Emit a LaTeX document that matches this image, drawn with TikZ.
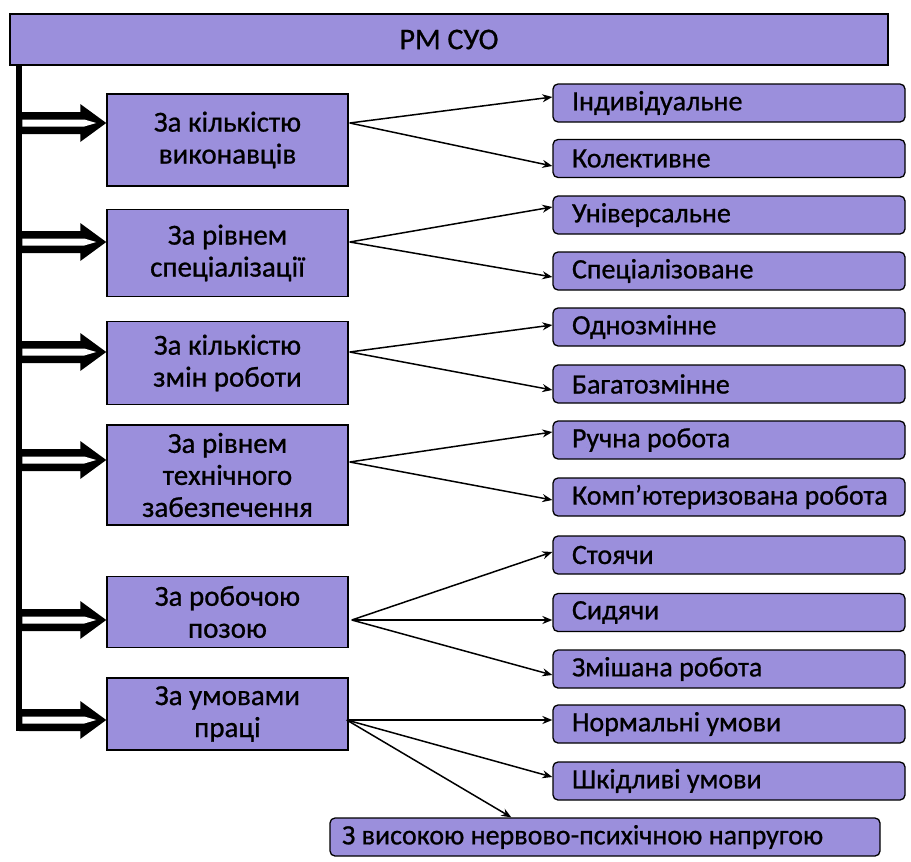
\documentclass[tikz,border=0pt]{standalone}
\usepackage{fontspec}
\setmainfont{Carlito}[FakeBold=0.8]
\usetikzlibrary{arrows.meta,calc}
\definecolor{boxfill}{RGB}{155,143,220}
\begin{document}
\begin{tikzpicture}[x=1pt,y=-1pt,
 topbox/.style={draw=black, line width=1.5pt, fill=boxfill, minimum width=878pt, minimum height=51pt, inner sep=0pt, font=\fontsize{30}{32}\selectfont},
 catbox/.style={draw=black, line width=1.5pt, fill=boxfill, minimum width=241pt, inner sep=0pt, align=center, font=\fontsize{29}{32}\selectfont},
 itembox/.style={draw=black, line width=1.3pt, fill=boxfill, rounded corners=5pt, minimum width=352pt, minimum height=38pt, text width=314pt, inner xsep=19pt, inner ysep=0pt, align=flush left, font=\fontsize{28}{30}\selectfont},
 conn/.style={line width=1.5pt, -{Stealth[length=10pt,width=8pt]}},
 fatarrow/.pic={
  \fill[black] (-87,-11) -- (-26,-11) -- (-26,-19) -- (0,0) -- (-26,19) -- (-26,11) -- (-87,11) -- cycle;
  \fill[white] (-84,-3.5) -- (-22,-3.5) -- (-10,0) -- (-22,3.5) -- (-84,3.5) -- cycle;
 }
]
\useasboundingbox (0,0) rectangle (911,862);

\node[topbox] (top) at (449,39.5) {РМ СУО};

\node[catbox, minimum height=92pt] (c1) at (227.5,140) {За кількістю\\виконавців};
\node[catbox, minimum height=87pt] (c2) at (227.5,253) {За рівнем\\спеціалізації};
\node[catbox, minimum height=83pt] (c3) at (227.5,363) {За кількістю\\змін роботи};
\node[catbox, minimum height=100pt] (c4) at (227.5,475) {За рівнем\\технічного\\забезпечення};
\node[catbox, minimum height=71pt] (c5) at (227.5,612) {За робочою\\позою};
\node[catbox, minimum height=72pt] (c6) at (227.5,714) {За умовами\\праці};

\node[itembox] (i1) at (729,103) {Індивідуальне};
\node[itembox] (i2) at (729,158.5) {Колективне};
\node[itembox] (i3) at (729,215) {Універсальне};
\node[itembox] (i4) at (729,271) {Спеціалізоване};
\node[itembox] (i5) at (729,327) {Однозмінне};
\node[itembox] (i6) at (729,384) {Багатозмінне};
\node[itembox] (i7) at (729,440) {Ручна робота};
\node[itembox] (i8) at (729,497) {\mbox{Комп’ютеризована робота}};
\node[itembox] (i9) at (729,555) {Стоячи};
\node[itembox] (i10) at (729,612.5) {Сидячи};
\node[itembox] (i11) at (729,669) {Змішана робота};
\node[itembox] (i12) at (729,724) {Нормальні умови};
\node[itembox] (i13) at (729,781) {Шкідливі умови};
\node[itembox, minimum width=550pt, text width=526pt, inner xsep=12pt] (bot) at (605,837) {З високою нервово-психічною напругою};

% trunk and fat arrows
\coordinate (a1) at ($(c1.west)+(0,-17)$);
\coordinate (a2) at ($(c2.west)+(0,-11)$);
\coordinate (a3) at ($(c3.west)+(0,-11)$);
\coordinate (a4) at ($(c4.west)+(0,-15)$);
\coordinate (a5) at ($(c5.west)+(0,8)$);
\coordinate (a6) at ($(c6.west)+(0,6)$);
\draw[line width=6pt] ($(top.south west)+(10,0)$) -- ($(a6)+(-87,11)$);
\foreach \k in {1,...,6} {\pic at (a\k) {fatarrow};}

% connectors
\coordinate (o1) at ($(c1.east)+(1,-17)$);
\coordinate (o2) at ($(c2.east)+(1,-11)$);
\coordinate (o3) at ($(c3.east)+(1,-11)$);
\coordinate (o4) at ($(c4.east)+(1,-13)$);
\coordinate (o5) at ($(c5.east)+(3,8)$);
\coordinate (o6) at ($(c6.east)+(-2,6)$);

\draw[conn] (o1) -- ($(i1.west)+(0,-6)$);
\draw[conn] (o1) -- ($(i2.west)+(0,7.5)$);
\draw[conn] (o2) -- ($(i3.west)+(0,-8)$);
\draw[conn] (o2) -- ($(i4.west)+(0,6)$);
\draw[conn] (o3) -- ($(i5.west)+(0,-2)$);
\draw[conn] (o3) -- ($(i6.west)+(0,6)$);
\draw[conn] (o4) -- ($(i7.west)+(0,-8)$);
\draw[conn] (o4) -- ($(i8.west)+(0,3)$);
\draw[conn] (o5) -- ($(i9.west)+(0,-3)$);
\draw[conn] (o5) -- ($(i10.west)+(0,7.5)$);
\draw[conn] (o5) -- ($(i11.west)+(0,6)$);
\draw[conn] (o6) -- ($(i12.west)+(0,-4)$);
\draw[conn] (o6) -- ($(i13.west)+(0,-4)$);
\draw[conn] (o6) -- ($(bot.north west)+(182,0)$);
\end{tikzpicture}
\end{document}
